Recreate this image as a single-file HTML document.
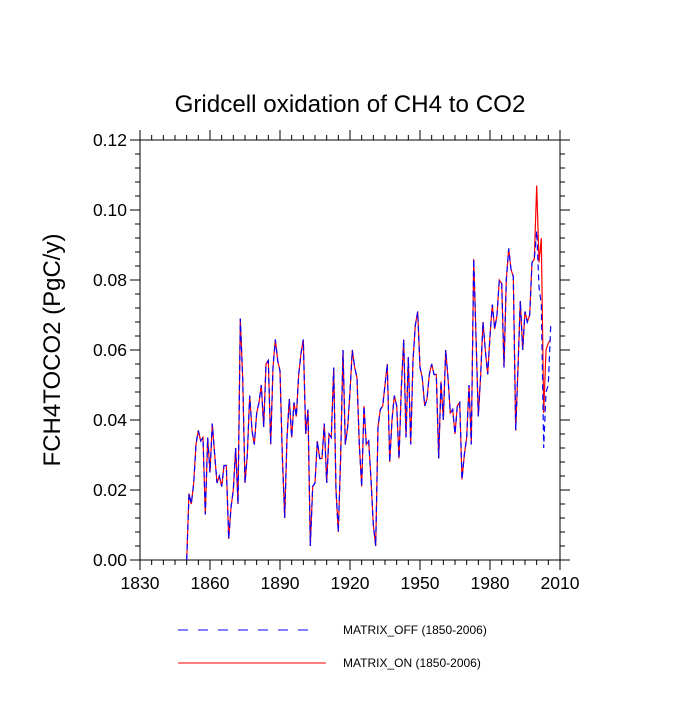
<!DOCTYPE html>
<html><head><meta charset="utf-8"><style>
body{margin:0;background:#fff;font-family:"Liberation Sans",sans-serif}
</style></head><body>
<svg width="700" height="700" xmlns="http://www.w3.org/2000/svg" font-family="Liberation Sans, sans-serif">
<text x="350" y="112" text-anchor="middle" font-size="24.2">Gridcell oxidation of CH4 to CO2</text>
<text transform="translate(60,350) rotate(-90)" text-anchor="middle" font-size="24">FCH4TOCO2  (PgC/y)</text>
<g id="axes"></g>
<g id="series"></g>
<g>
<line x1="178" y1="630" x2="316" y2="630" stroke="#00f" stroke-dasharray="10,10"/>
<text x="343" y="634" font-size="12">MATRIX_OFF (1850-2006)</text>
<line x1="178" y1="663" x2="326" y2="663" stroke="#f00"/>
<text x="343" y="667" font-size="12">MATRIX_ON (1850-2006)</text>
</g>
</svg>
<script>
const startYear = 1850;
const onValues = [0.000,0.019,0.016,0.022,0.033,0.037,0.034,0.035,0.013,0.035,0.025,0.039,0.030,0.022,0.024,0.021,0.027,0.027,0.006,0.015,0.020,0.032,0.016,0.069,0.052,0.022,0.030,0.047,0.037,0.033,0.042,0.045,0.050,0.038,0.056,0.057,0.033,0.055,0.063,0.057,0.054,0.030,0.012,0.035,0.046,0.035,0.045,0.041,0.053,0.059,0.063,0.036,0.043,0.004,0.021,0.022,0.034,0.029,0.029,0.039,0.022,0.036,0.035,0.055,0.020,0.008,0.030,0.060,0.033,0.038,0.048,0.060,0.055,0.052,0.033,0.021,0.044,0.033,0.034,0.023,0.010,0.004,0.038,0.043,0.044,0.050,0.056,0.028,0.040,0.047,0.044,0.029,0.049,0.063,0.035,0.058,0.033,0.057,0.067,0.071,0.055,0.052,0.044,0.046,0.053,0.056,0.053,0.053,0.029,0.051,0.040,0.060,0.052,0.042,0.043,0.036,0.044,0.045,0.023,0.030,0.035,0.050,0.033,0.086,0.064,0.041,0.053,0.068,0.060,0.053,0.064,0.073,0.066,0.070,0.080,0.079,0.055,0.080,0.089,0.083,0.081,0.037,0.055,0.074,0.060,0.071,0.068,0.070,0.085,0.086,0.107,0.085,0.092,0.042,0.060,0.062,0.063];
const offTail = [0.094,0.078,0.073,0.032,0.048,0.050,0.067];
const offValues = onValues.slice(0, onValues.length - offTail.length).concat(offTail);
const xTicks = [1830,1860,1890,1920,1950,1980,2010];
const yTicks = [0.00,0.02,0.04,0.06,0.08,0.10,0.12];
const yTickLabels = ["0.00","0.02","0.04","0.06","0.08","0.10","0.12"];

const L=140,R=560,T=140,B=560;
const xs=v=>L+(v-1830)/(2010-1830)*(R-L);
const ys=v=>B-v/0.12*(B-T);
const NS="http://www.w3.org/2000/svg";
function mk(tag,attrs,parent){const e=document.createElementNS(NS,tag);for(const k in attrs)e.setAttribute(k,attrs[k]);parent.appendChild(e);return e;}
const ax=document.getElementById('axes');
const frame=mk('rect',{x:L,y:T,width:R-L,height:B-T,fill:'none',stroke:'#000','stroke-width':1},ax);


xTicks.forEach((t,i)=>{
  const x=xs(t);
  mk('line',{x1:x,y1:B,x2:x,y2:B+10,stroke:'#000'},ax);
  mk('line',{x1:x,y1:T,x2:x,y2:T-10,stroke:'#000'},ax);
  const tx=mk('text',{x:x,y:B+29,'text-anchor':'middle','font-size':17.5},ax);tx.textContent=t;
  
  
  if(i<xTicks.length-1)for(let m=1;m<6;m++){const xm=xs(t+m*5);mk('line',{x1:xm,y1:B,x2:xm,y2:B+5,stroke:'#000'},ax);mk('line',{x1:xm,y1:T,x2:xm,y2:T-5,stroke:'#000'},ax);}
});
yTicks.forEach((t,i)=>{
  const y=ys(t);
  mk('line',{x1:L,y1:y,x2:L-10,y2:y,stroke:'#000'},ax);
  mk('line',{x1:R,y1:y,x2:R+10,y2:y,stroke:'#000'},ax);
  const tx=mk('text',{x:L-13,y:y+6,'text-anchor':'end','font-size':17.5},ax);tx.textContent=yTickLabels[i];
  
  
  if(i<yTicks.length-1)for(let m=1;m<5;m++){const ym=ys(t+m*0.004);mk('line',{x1:L,y1:ym,x2:L-5,y2:ym,stroke:'#000'},ax);mk('line',{x1:R,y1:ym,x2:R+5,y2:ym,stroke:'#000'},ax);}
});
const sg=document.getElementById('series');
function pts(vals){return vals.map((v,i)=>xs(startYear+i).toFixed(1)+','+ys(v).toFixed(1)).join(' ');}
const on=mk('polyline',{points:pts(onValues),fill:'none',stroke:'#f00','stroke-width':1.2},sg);


const off=mk('polyline',{points:pts(offValues),fill:'none',stroke:'#00f','stroke-width':1.2,'stroke-dasharray':'6,4'},sg);


</script>
</body></html>
